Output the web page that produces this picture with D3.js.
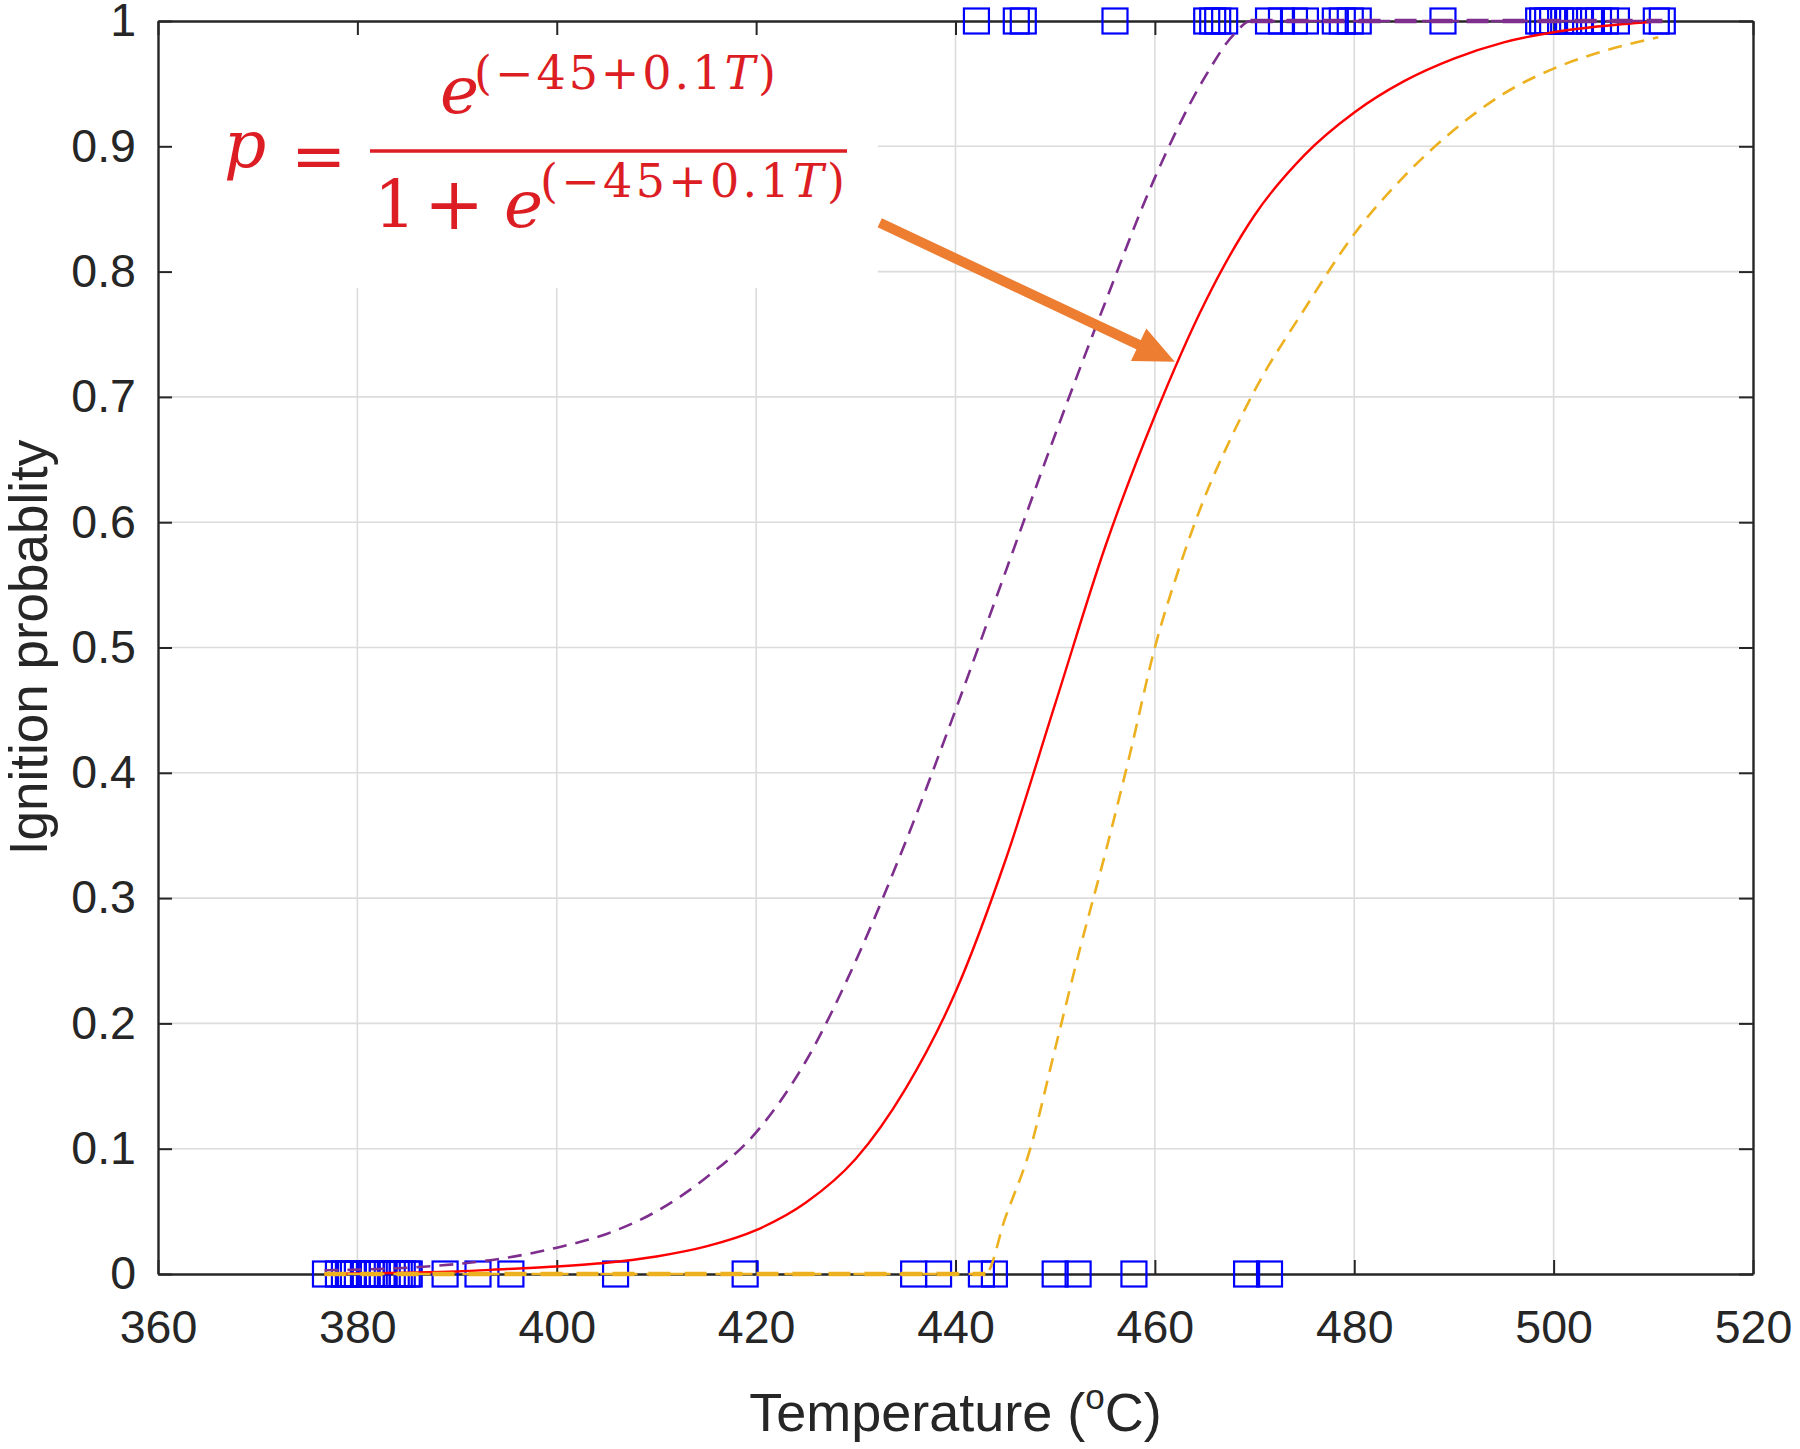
<!DOCTYPE html>
<html>
<head>
<meta charset="utf-8">
<script src="https://cdn.jsdelivr.net/npm/d3@7"></script>
<style>
  html, body { margin: 0; padding: 0; background: #ffffff; }
  svg { display: block; }
</style>
</head>
<body>
<script>
// ---------------- DATA ----------------
const xTicks = [360, 380, 400, 420, 440, 460, 480, 500, 520];
const yTicks = [0, 0.1, 0.2, 0.3, 0.4, 0.5, 0.6, 0.7, 0.8, 0.9, 1];
const yTickLabels = ["0", "0.1", "0.2", "0.3", "0.4", "0.5", "0.6", "0.7", "0.8", "0.9", "1"];
const xTickLabels = ["360", "380", "400", "420", "440", "460", "480", "500", "520"];

// fitted logistic curve (solid red)
const fitT = [376.7, 385, 390, 395, 400, 405, 410, 415, 420, 425, 430, 435, 440, 445, 450, 455, 460, 465, 470, 475, 480, 485, 490, 495, 500, 505, 510.9];
const fitP = [0, 0.001, 0.002, 0.004, 0.006, 0.009, 0.014, 0.022, 0.035, 0.057, 0.092, 0.148, 0.225, 0.33, 0.455, 0.58, 0.685, 0.775, 0.845, 0.893, 0.927, 0.952, 0.97, 0.983, 0.991, 0.996, 1.0];

// upper bound (purple dashed)
const upperT = [376.7, 385, 390, 395, 400, 405, 410, 415, 420, 425, 430, 435, 440, 445, 450, 455, 460, 465, 468, 469.6, 510.9];
const upperP = [0.003, 0.005, 0.008, 0.013, 0.021, 0.032, 0.05, 0.077, 0.113, 0.17, 0.25, 0.345, 0.45, 0.56, 0.67, 0.775, 0.875, 0.955, 0.99, 1.0, 1.0];

// lower bound (yellow dashed)
const lowerT = [376.7, 443, 445, 447.5, 450, 452.5, 455, 457.5, 460, 462.5, 465, 467.5, 470, 475, 480, 485, 490, 495, 500, 505, 510.5];
const lowerP = [0, 0, 0.045, 0.1, 0.18, 0.26, 0.335, 0.415, 0.5, 0.565, 0.62, 0.665, 0.705, 0.77, 0.83, 0.876, 0.913, 0.942, 0.962, 0.976, 0.987];

// observations: no ignition (p = 0)
const noIgnitionT = [376.8, 378.1, 378.7, 379.1, 379.6, 380.0, 380.8, 381.4, 382.0, 382.5, 383.0, 383.5, 383.9, 384.2, 384.5, 385.0, 385.2,
  388.8, 392.1, 395.4, 405.9, 418.9, 435.8, 438.3, 442.6, 443.9, 450.0, 452.3, 457.9, 469.2, 471.5];
// observations: ignition (p = 1)
const ignitionT = [442.1, 446.1, 446.8, 456.0, 465.2, 465.8, 466.3, 467.0, 471.4, 472.7, 474.0, 475.1, 478.1, 478.8, 479.6, 480.4, 488.9,
  498.5, 498.9, 499.4, 499.9, 500.7, 501.5, 502.6, 503.6, 504.5, 505.2, 506.3, 510.3, 510.9];

// annotation (data coordinates)
const arrowT = [432.4, 462.0];
const arrowP = [0.839, 0.728];
const formulaBoxT = [360, 432.2];
const formulaBoxP = [1, 0.787];

// ---------------- CHART ----------------
const W = 1800, H = 1449;
const L = 158, R = 1753, T = 21, B = 1274;
const axisColor = "#262626";
const sansFont = "'Liberation Sans', Arial, Helvetica, sans-serif";
const mathFont = "'DejaVu Serif', 'Liberation Serif', serif";

const x = d3.scaleLinear().domain([360, 520]).range([L, R]);
const y = d3.scaleLinear().domain([0, 1]).range([B, T]);

const svg = d3.select("body").append("svg")
  .attr("width", W).attr("height", H)
  .attr("viewBox", `0 0 ${W} ${H}`);

svg.append("rect").attr("width", W).attr("height", H).attr("fill", "#ffffff");

// grid
const grid = svg.append("g").attr("class", "grid");
grid.selectAll("line.gx").data(xTicks.slice(1, -1)).join("line")
  .attr("x1", d => x(d)).attr("x2", d => x(d))
  .attr("y1", y(0)).attr("y2", y(1))
  .attr("stroke", "#dcdcdc").attr("stroke-width", 1.6);
grid.selectAll("line.gy").data(yTicks.slice(1, -1)).join("line")
  .attr("x1", x(360)).attr("x2", x(520))
  .attr("y1", d => y(d)).attr("y2", d => y(d))
  .attr("stroke", "#dcdcdc").attr("stroke-width", 1.6);

// white background of the pasted formula (hides grid)
svg.append("rect")
  .attr("x", x(formulaBoxT[0])).attr("y", y(formulaBoxP[0]))
  .attr("width", x(formulaBoxT[1]) - x(formulaBoxT[0]))
  .attr("height", y(formulaBoxP[1]) - y(formulaBoxP[0]))
  .attr("fill", "#ffffff");

// axes
function styleAxis(g) {
  g.select(".domain").attr("stroke", axisColor).attr("stroke-width", 2.4);
  g.selectAll(".tick line").attr("stroke", axisColor).attr("stroke-width", 2);
  g.selectAll(".tick text").attr("fill", axisColor)
    .attr("font-family", sansFont).attr("font-size", 46.5);
}
svg.append("g").attr("transform", `translate(0,${B})`)
  .call(d3.axisBottom(x).tickValues(xTicks).tickFormat((d, i) => xTickLabels[i])
    .tickSizeInner(-14).tickSizeOuter(0).tickPadding(36))
  .call(styleAxis);
svg.append("g").attr("transform", `translate(0,${T})`)
  .call(d3.axisTop(x).tickValues(xTicks).tickFormat("")
    .tickSizeInner(-14).tickSizeOuter(0))
  .call(styleAxis);
svg.append("g").attr("transform", `translate(${L},0)`)
  .call(d3.axisLeft(y).tickValues(yTicks).tickFormat((d, i) => yTickLabels[i])
    .tickSizeInner(-14).tickSizeOuter(0).tickPadding(22))
  .call(styleAxis);
svg.append("g").attr("transform", `translate(${R},0)`)
  .call(d3.axisRight(y).tickValues(yTicks).tickFormat("")
    .tickSizeInner(-14).tickSizeOuter(0))
  .call(styleAxis);

// observations (open blue squares)
const sq = 25;
const obs = svg.append("g");
obs.selectAll("rect.n").data(noIgnitionT).join("rect")
  .attr("x", d => x(d) - sq / 2).attr("y", y(0) - sq / 2)
  .attr("width", sq).attr("height", sq)
  .attr("fill", "none").attr("stroke", "#0000ff").attr("stroke-width", 2.2);
obs.selectAll("rect.i").data(ignitionT).join("rect")
  .attr("x", d => x(d) - sq / 2).attr("y", y(1) - sq / 2)
  .attr("width", sq).attr("height", sq)
  .attr("fill", "none").attr("stroke", "#0000ff").attr("stroke-width", 2.2);

// curves
const line = d3.line().x(d => x(d[0])).y(d => y(d[1])).curve(d3.curveMonotoneX);
const upperPts = d3.zip(upperT, upperP);
const lowerPts = d3.zip(lowerT, lowerP);
svg.append("path").datum(d3.zip(fitT, fitP)).attr("d", line)
  .attr("fill", "none").attr("stroke", "#ff0000").attr("stroke-width", 2.4);
svg.append("path").datum(upperPts).attr("d", line)
  .attr("fill", "none").attr("stroke", "#7e2f8e").attr("stroke-width", 2.6)
  .attr("stroke-dasharray", "14,9");
svg.append("path").datum(lowerPts).attr("d", line)
  .attr("fill", "none").attr("stroke", "#edb120").attr("stroke-width", 2.6)
  .attr("stroke-dasharray", "14,9");
// flat parts of the bounds lie on the axis lines and look bolder
const flatLine = d3.line().x(d => x(d[0])).y(d => y(d[1]));
svg.append("path").datum(upperPts.filter(d => d[1] === 1)).attr("d", flatLine)
  .attr("fill", "none").attr("stroke", "#7e2f8e").attr("stroke-width", 4.5)
  .attr("stroke-dasharray", "22,14");
svg.append("path").datum(lowerPts.filter(d => d[1] === 0)).attr("d", flatLine)
  .attr("fill", "none").attr("stroke", "#edb120").attr("stroke-width", 4.5)
  .attr("stroke-dasharray", "22,14");

// axis titles
svg.append("text")
  .attr("x", (L + R) / 2).attr("y", 1431)
  .attr("text-anchor", "middle")
  .attr("font-family", sansFont).attr("font-size", 54).attr("fill", axisColor)
  .call(t => {
    t.append("tspan").text("Temperature (");
    t.append("tspan").attr("font-size", 35).attr("dy", -22).text("o");
    t.append("tspan").attr("dy", 22).text("C)");
  });
svg.append("text")
  .attr("transform", `translate(47,${(T + B) / 2}) rotate(-90)`)
  .attr("text-anchor", "middle")
  .attr("font-family", sansFont).attr("font-size", 53).attr("fill", axisColor)
  .text("Ignition probablity");

// formula
const fx0 = x(formulaBoxT[0]), fy0 = y(formulaBoxP[0]);
const red = "#dc1e24";
const f = svg.append("g").attr("transform", `translate(${fx0},${fy0})`)
  .attr("font-family", mathFont).attr("fill", red);
f.append("text").attr("x", 66).attr("y", 146).attr("font-size", 66)
  .attr("font-style", "italic").text("p");
f.append("text").attr("x", 133).attr("y", 157).attr("font-size", 66).text("=");
f.append("line").attr("x1", 212).attr("x2", 689).attr("y1", 130).attr("y2", 130)
  .attr("stroke", red).attr("stroke-width", 3.5);
f.append("text").attr("x", 282).attr("y", 92).attr("font-size", 66)
  .attr("font-style", "italic").text("e");
function sup(sel) {
  sel.append("tspan").text("(−45+0.1");
  sel.append("tspan").attr("font-style", "italic").text("T");
  sel.append("tspan").text(")");
}
f.append("text").attr("x", 316).attr("y", 68).attr("font-size", 46)
  .attr("textLength", 302).attr("lengthAdjust", "spacing").call(sup);
f.append("text").attr("x", 216).attr("y", 206).attr("font-size", 66).text("1");
f.append("text").attr("x", 266).attr("y", 208).attr("font-size", 72).text("+");
f.append("text").attr("x", 346).attr("y", 206).attr("font-size", 66)
  .attr("font-style", "italic").text("e");
f.append("text").attr("x", 382).attr("y", 176).attr("font-size", 46)
  .attr("textLength", 305).attr("lengthAdjust", "spacing").call(sup);

// arrow
const orange = "#ed7d31";
const ax0 = x(arrowT[0]), ay0 = y(arrowP[0]), ax1 = x(arrowT[1]), ay1 = y(arrowP[1]);
const ang = Math.atan2(ay1 - ay0, ax1 - ax0);
const headLen = 40, headW = 36;
const bx = ax1 - headLen * Math.cos(ang), by = ay1 - headLen * Math.sin(ang);
svg.append("line").attr("x1", ax0).attr("y1", ay0).attr("x2", bx + 2 * Math.cos(ang)).attr("y2", by + 2 * Math.sin(ang))
  .attr("stroke", orange).attr("stroke-width", 10);
svg.append("path")
  .attr("d", `M${ax1},${ay1} L${bx + headW / 2 * Math.sin(ang)},${by - headW / 2 * Math.cos(ang)} L${bx - headW / 2 * Math.sin(ang)},${by + headW / 2 * Math.cos(ang)} Z`)
  .attr("fill", orange);
</script>
</body>
</html>
